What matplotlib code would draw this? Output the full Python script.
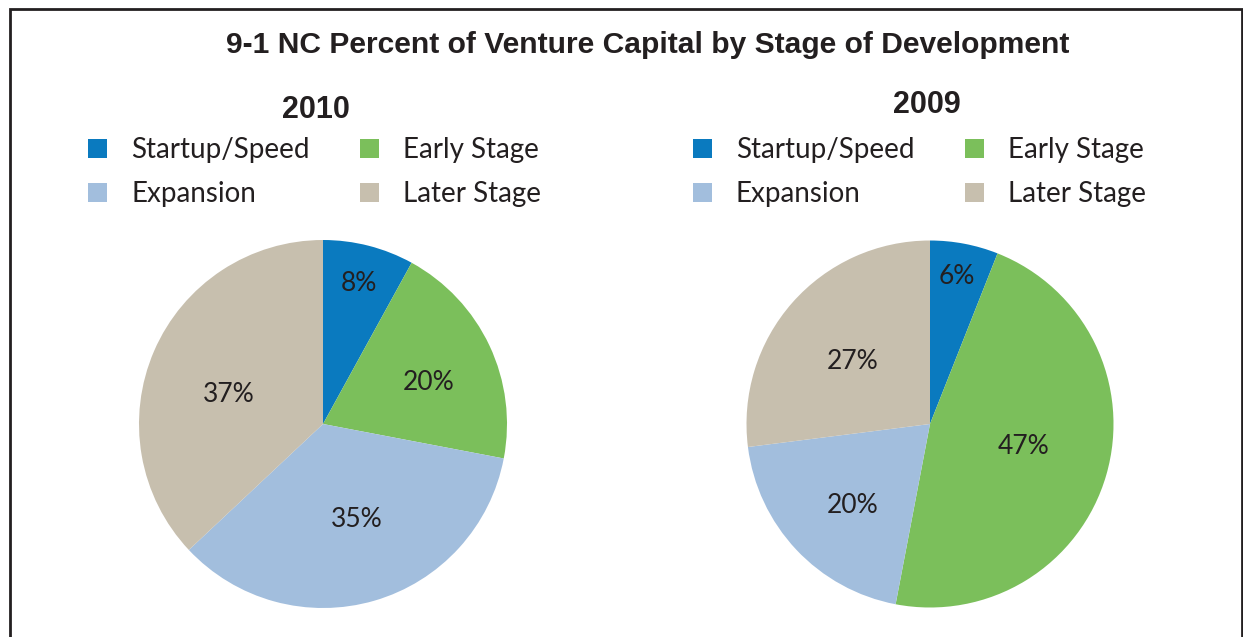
import matplotlib.pyplot as plt
from matplotlib.patches import Rectangle
import numpy as np

# data
stages = ['Startup/Speed', 'Early Stage', 'Expansion', 'Later Stage']
colors = ['#0A7ABF', '#7BBF5B', '#A2BEDD', '#C7BFAE']
share_2010 = [8, 20, 35, 37]
share_2009 = [6, 47, 20, 27]

# where the % labels sit inside each pie: (fraction of radius, angle in degrees)
lab_2010 = [(0.80, 76.0), (0.62, 22.6), (0.54, -70.2), (0.54, 161.6)]
lab_2009 = [(0.83, 79.7), (0.52, -12.5), (0.60, -134.3), (0.55, 140.4)]

txt = '#231F20'
head_font = 'Liberation Sans'
body_font = 'Lato'
W, H = 1243, 637

fig = plt.figure(figsize=(W / 100, H / 100), dpi=100)

# frame around the whole exhibit (bottom is cut off)
fig.patches.append(Rectangle((9.5 / W, -0.05), 1232 / W, 1.05 - 9 / H,
                             transform=fig.transFigure, fill=False,
                             lw=2, edgecolor=txt))

fig.text(647.5 / W, 1 - 53 / H, '9-1 NC Percent of Venture Capital by Stage of Development',
         ha='center', va='baseline', fontsize=21.6, fontweight='bold',
         family=head_font, color=txt)


def draw_pie(rect, vals, labpos, year, year_xy, leg_x):
    ax = fig.add_axes(rect)
    ax.pie(vals, colors=colors, startangle=90, counterclock=False,
           radius=1, wedgeprops=dict(linewidth=0))
    for v, (r, a) in zip(vals, labpos):
        a = np.deg2rad(a)
        # baseline placed half a digit height below the label centre
        ax.annotate('%d%%' % v, (r * np.cos(a), r * np.sin(a)), xytext=(0, -7),
                    textcoords='offset points', ha='center', va='baseline',
                    fontsize=19, family=body_font, color=txt)
    ax.set_xlim(-1, 1)
    ax.set_ylim(-1, 1)
    ax.set_aspect('equal')
    ax.axis('off')

    fig.text(year_xy[0] / W, 1 - year_xy[1] / H, year, ha='center', va='baseline',
             fontsize=22, fontweight='bold', family=head_font, color=txt)

    # legend, two columns
    for i, name in enumerate(stages):
        col, row = i % 2, i // 2
        x0 = leg_x[col]
        yb = 158 + row * 44
        fig.patches.append(Rectangle((x0 / W, 1 - yb / H), 19 / W, 19 / H,
                                     transform=fig.transFigure, color=colors[i], lw=0))
        fig.text((x0 + 43) / W, 1 - yb / H, name, ha='left', va='baseline',
                 fontsize=20, family=body_font, color=txt)
    return ax


draw_pie([139 / W, 29 / H, 368 / W, 368 / H], share_2010, lab_2010,
         '2010', (316, 118), (88, 360))
draw_pie([746.5 / W, 29.5 / H, 367 / W, 367 / H], share_2009, lab_2009,
         '2009', (927, 113), (693, 965))

fig.savefig('out.png', dpi=100)
